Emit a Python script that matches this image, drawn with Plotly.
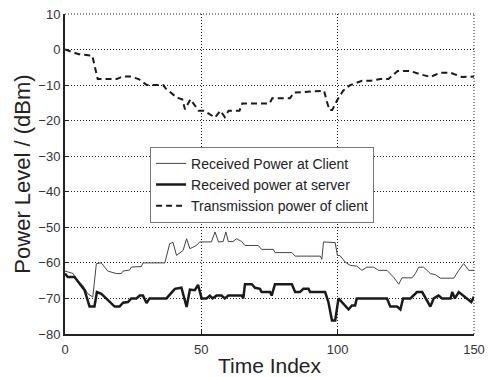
import plotly.graph_objects as go

# Transmission power of client (dashed)
tx_x = [0, 5, 10, 11, 12, 19, 21, 24, 27, 30, 36, 37, 41, 43, 44, 46, 48, 49, 51, 55, 57, 58.6, 60, 64,
        65, 75, 76, 82.5, 84, 95, 96, 97, 98, 99, 100, 102, 104.6, 108.9, 112, 115.7, 118.6, 122, 126.6,
        130, 134, 137.7, 141.3, 145.6, 150]
tx_y = [0, -1.3, -1.7, -5, -8.3, -8.3, -7.6, -7.6, -8.3, -10, -10, -11, -13.5, -14, -16.8, -14, -16.3, -17.2,
        -17.2, -19.1, -17.2, -19, -17.2, -17.2, -15.2, -15.2, -13.7, -13.7, -12.1, -11.6, -14.5, -17, -17,
        -15.5, -14, -11.6, -10, -8.8, -8.8, -8.3, -8.3, -6, -6, -6.9, -7.7, -6.5, -6.5, -7.7, -7.6]

# Received power at client (thin)
cl_x = [0, 3, 4, 6.5, 8.4, 10.2, 11.5, 13.3, 15.7, 18.8, 20.7, 21.3, 23.7, 24.3, 28, 28.6, 36.6, 38.4, 39.6,
        40.9, 43.3, 44.6, 45.8, 48.2, 49.4, 53.7, 55, 56.3, 58, 59, 59.9, 61.6, 62.9, 64.8, 66, 70.9, 72.1,
        76.4, 77, 83.2, 84.4, 93.6, 94.2, 94.8, 99.1, 99.9, 100.9, 102.8, 104.6, 107, 108.9, 110.7, 113.2,
        115, 118.1, 120.5, 122.4, 123.6, 127.3, 128.5, 129.7, 131.5, 134, 135.8, 137.7, 142.6, 144.4, 146.2,
        148.1, 150]
cl_y = [-62.3, -63, -64.5, -66.3, -68.7, -69.6, -60.2, -60, -62.3, -63, -63, -62.3, -62, -61.2, -61, -60, -60,
        -54.6, -54.2, -57.9, -56.5, -53.2, -56, -55.1, -54.1, -54.1, -51.3, -54.1, -54, -51.3, -54, -54, -53.2,
        -54, -55.1, -55.1, -56.2, -56.2, -57.1, -57.1, -58.1, -58.1, -59, -54.1, -54.3, -57.9, -58, -59.8,
        -60.7, -60.9, -62.1, -61.2, -61.2, -62.1, -62.1, -64, -66, -64.2, -64.2, -63, -61.2, -61.2, -63, -63.3,
        -64.3, -64.3, -62.1, -60.2, -62.1, -62.1]

# Received power at server (thick)
sv_x = [0, 1, 3.5, 5.3, 7.2, 9, 10.8, 11.7, 13.3, 15.1, 18.2, 20, 21.3, 23.1, 24.3, 26.2, 27.4, 28.6, 29.9, 31,
        37.2, 40.3, 42.7, 44.6, 45.8, 47.6, 48.8, 50.1, 51.9, 53.1, 54.1, 55.6, 57.4, 58.6, 59.9, 64.8, 65.4,
        66, 68.5, 69.7, 71.5, 72.1, 75.2, 75.8, 77, 83.2, 84.4, 86.2, 87.4, 89.3, 89.9, 95.4, 96.6, 97.9,
        99.1, 100.3, 100.9, 102.8, 104, 105.2, 106.4, 107, 118.1, 119.3, 121.8, 123, 124, 126.7, 129.1, 131,
        132.2, 134, 135.2, 137, 138.3, 141.4, 142, 143, 144.4, 146.2, 147.5, 149, 150]
sv_y = [-63, -64, -64, -65.9, -67.7, -72.3, -72.3, -68.2, -68.7, -70, -72.3, -72.3, -71.2, -71, -70, -70, -69.2,
        -69.2, -71.3, -70, -70, -67.3, -67, -72.4, -67.5, -67.7, -66.2, -70, -70, -69.2, -70, -69.2, -69.2, -70,
        -69.2, -69.2, -70, -66, -66, -67, -67.3, -68.2, -68.2, -69.2, -66, -66, -68.2, -68.2, -67.3, -67.3,
        -68.2, -68.2, -71, -76.2, -76.2, -70, -70.5, -72, -73.1, -72, -72, -70, -70, -72.3, -72.3, -73.1, -70,
        -70, -68.2, -68.2, -70, -72.3, -70, -69.2, -70, -70, -68.2, -70, -68.2, -69.2, -70, -71, -69.5]

names = ["Received Power at Client", "Received power at server", "Transmission power of client"]
x_ticks = [0, 50, 100, 150]
y_ticks = list(range(-80, 11, 10))

FONT = "Liberation Sans, Arial, sans-serif"

fig = go.Figure()
fig.add_trace(go.Scatter(x=cl_x, y=cl_y, mode="lines", name=names[0],
                         line=dict(color="#444", width=1)))
fig.add_trace(go.Scatter(x=sv_x, y=sv_y, mode="lines", name=names[1],
                         line=dict(color="#1a1a1a", width=2.5)))
fig.add_trace(go.Scatter(x=tx_x, y=tx_y, mode="lines", name=names[2],
                         line=dict(color="#1a1a1a", width=2, dash="6px,4px")))

grid = dict(showgrid=True, gridcolor="#222", gridwidth=1, griddash="1px,2px",
            showline=True, linecolor="#222", linewidth=2, ticks="inside", ticklen=4,
            tickcolor="#222", zeroline=False, automargin=False,
            tickfont=dict(family=FONT, size=13, color="#333"))

fig.update_layout(
    width=493, height=377,
    margin=dict(l=65, r=19, t=14, b=43),
    paper_bgcolor="white", plot_bgcolor="white",
    font=dict(family=FONT, color="#222"),
    showlegend=True,
    legend=dict(x=0.208, y=0.585, xanchor="left", yanchor="top",
                bgcolor="white", bordercolor="#777", borderwidth=1,
                font=dict(family=FONT, size=14, color="#222"),
                tracegroupgap=0, itemwidth=30),
    xaxis=dict(range=[0, 150], tickvals=x_ticks, ticklabelstandoff=2,
               title=dict(text="Time Index", font=dict(size=21), standoff=3), **grid),
    yaxis=dict(range=[-80, 10], tickvals=y_ticks,
               title=dict(text="Power Level / (dBm)", font=dict(size=22), standoff=2), **grid),
)
# dotted frame at top and right (grid at the range ends)
fig.add_shape(type="line", xref="paper", yref="paper", x0=0, x1=1, y0=1, y1=1,
              line=dict(color="#222", width=1, dash="1px,2px"))
fig.add_shape(type="line", xref="paper", yref="paper", x0=1, x1=1, y0=0, y1=1,
              line=dict(color="#222", width=1, dash="1px,2px"))

fig.write_html("out.html")
